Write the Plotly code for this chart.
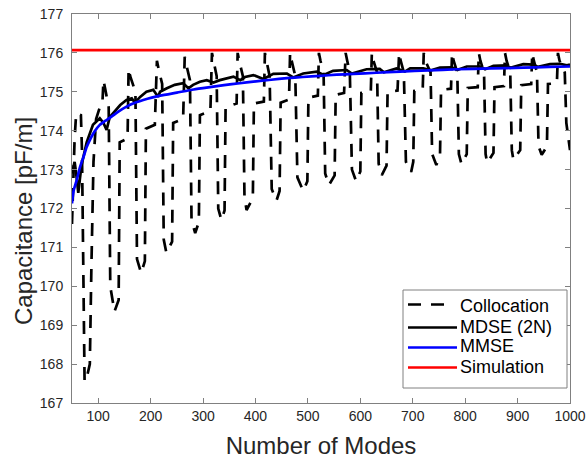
import plotly.graph_objects as go

# ---------------- data ----------------
coll_modes = [50, 52, 55, 58, 67, 69, 71, 74, 79, 84, 87, 91, 96, 103, 108,
              110, 113, 120, 123, 131, 139, 141, 156,
              158, 161, 171, 174, 182, 189, 191, 208,
              212, 215, 222, 225, 230, 241, 243, 262,
              265, 268, 275, 278, 285, 292, 294, 314,
              317, 320, 326, 329, 335, 341, 343, 364,
              366, 369, 376, 379, 383, 395, 397, 416,
              418, 421, 427, 431, 440, 446, 448, 464,
              466, 469, 476, 480, 491, 499, 501, 519,
              521, 524, 530, 533, 540, 551, 553, 569,
              572, 575, 580, 584, 592, 600, 602, 620,
              622, 625, 632, 635, 641, 650, 652, 671,
              674, 677, 683, 687, 697, 701, 703, 719,
              721, 724, 734, 737, 745, 752, 754, 773,
              775, 778, 785, 788, 793, 803, 805, 824,
              826, 829, 836, 839, 842, 854, 856, 874,
              876, 879, 886, 889, 892, 905, 907, 926,
              928, 931, 937, 940, 946, 956, 958, 975,
              977, 980, 990, 993, 1000]
coll_vals = [171.6, 172.6, 173.8, 174.45, 174.4, 173.5, 170.5, 167.55, 167.7, 168.0, 170.5, 173.2, 174.3, 174.6, 174.7,
             175.3, 175.1, 174.6, 170.0, 169.35, 169.65, 173.7, 173.8,
             175.6, 175.4, 175.0, 170.7, 170.34, 170.65, 174.05, 174.15,
             175.8, 175.6, 175.2, 171.2, 170.86, 171.15, 174.2, 174.3,
             175.9, 175.7, 175.3, 171.7, 171.37, 171.65, 174.4, 174.5,
             176.0, 175.8, 175.4, 172.0, 171.7, 171.95, 174.6, 174.7,
             176.0, 175.8, 175.4, 172.3, 171.96, 172.27, 174.7, 174.75,
             176.0, 175.8, 175.4, 172.5, 172.2, 172.45, 174.72, 174.8,
             176.0, 175.8, 175.4, 172.8, 172.45, 172.7, 174.85, 174.9,
             176.0, 175.8, 175.45, 172.9, 172.6, 172.85, 174.92, 174.97,
             176.0, 175.8, 175.5, 173.0, 172.7, 172.95, 174.97, 175.0,
             176.0, 175.8, 175.5, 173.15, 172.86, 173.1, 175.0, 175.03,
             176.0, 175.8, 175.5, 173.2, 172.94, 173.2, 175.02, 175.05,
             176.0, 175.8, 175.5, 173.4, 173.12, 173.35, 175.05, 175.08,
             176.0, 175.8, 175.5, 173.4, 173.14, 173.4, 175.1, 175.12,
             176.0, 175.8, 175.5, 173.4, 173.17, 173.43, 175.12, 175.15,
             176.0, 175.8, 175.5, 173.5, 173.25, 173.5, 175.17, 175.2,
             176.0, 175.8, 175.5, 173.6, 173.38, 173.6, 175.2, 175.22,
             176.0, 175.8, 175.5, 174.2, 173.5]

mdse_modes = [50, 55, 58, 62, 68, 78, 90, 103, 110, 116, 122, 132, 142, 154, 164, 170, 180,
              192, 205, 214, 218, 231, 246, 262, 272, 281, 294, 307, 320, 332, 345, 358,
              371, 380, 396, 415, 434, 460, 472, 491, 517, 530, 548, 574, 584, 612, 637,
              645, 669, 685, 695, 720, 735, 752, 775, 785, 803, 829, 838, 854, 879, 886,
              911, 930, 939, 962, 981, 994, 1000]
mdse_vals = [172.9, 173.2, 172.9, 172.4, 173.1, 173.7, 174.15, 174.32, 174.2, 174.02, 174.35,
             174.5, 174.66, 174.79, 174.83, 174.72, 174.87, 175.0, 175.05, 174.87, 175.0,
             175.09, 175.18, 175.22, 175.09, 175.18, 175.26, 175.3, 175.24, 175.3, 175.35,
             175.39, 175.3, 175.38, 175.43, 175.33, 175.46, 175.47, 175.37, 175.47, 175.52,
             175.43, 175.54, 175.56, 175.47, 175.58, 175.59, 175.5, 175.6, 175.52, 175.6,
             175.6, 175.55, 175.62, 175.63, 175.56, 175.65, 175.65, 175.58, 175.67, 175.68,
             175.62, 175.71, 175.7, 175.64, 175.71, 175.72, 175.68, 175.7]

mmse_modes = [50, 53, 59, 65, 72, 78, 84, 93, 103, 113, 122, 137, 154, 170, 186, 202, 218,
              250, 282, 313, 340, 370, 396, 430, 460, 490, 523, 555, 587, 630, 676, 730,
              784, 850, 911, 960, 1000]
mmse_vals = [172.13, 172.45, 172.73, 173.05, 173.33, 173.58, 173.76, 173.98, 174.15, 174.25,
             174.33, 174.48, 174.62, 174.72, 174.79, 174.85, 174.9, 174.98, 175.06, 175.12,
             175.17, 175.22, 175.26, 175.31, 175.35, 175.38, 175.41, 175.44, 175.46, 175.49,
             175.52, 175.55, 175.58, 175.6, 175.62, 175.64, 175.65]

sim_modes = [50, 1000]
sim_vals = [176.07, 176.07]

x_ticks = [100, 200, 300, 400, 500, 600, 700, 800, 900, 1000]
y_ticks = [167, 168, 169, 170, 171, 172, 173, 174, 175, 176, 177]

series_names = ["Collocation", "MDSE (2N)", "MMSE", "Simulation"]
x_title = "Number of Modes"
y_title = "Capacitance [pF/m]"

# ---------------- styling ----------------
FONT = "Liberation Sans, Arial, Helvetica, sans-serif"
TXT = "#262626"
AX = "#808080"
LW = 2.7
COLL_DASH = "13px,10px"
styles = [dict(color="black", width=LW, dash=COLL_DASH),
          dict(color="black", width=LW),
          dict(color="#0000ff", width=LW),
          dict(color="#ff0000", width=LW)]

W, H = 586, 459
ML, MR, MT, MB = 72, 16, 14, 56
PW, PH = W - ML - MR, H - MT - MB


def px_x(p):
    return (p - ML) / PW


def px_y(p):
    return (H - MB - p) / PH


fig = go.Figure()
fig.add_trace(go.Scatter(x=coll_modes, y=coll_vals, mode="lines", name=series_names[0], line=styles[0]))
fig.add_trace(go.Scatter(x=mdse_modes, y=mdse_vals, mode="lines", name=series_names[1], line=styles[1]))
fig.add_trace(go.Scatter(x=mmse_modes, y=mmse_vals, mode="lines", name=series_names[2],
                         line=dict(styles[2], shape="spline", smoothing=0.6)))
fig.add_trace(go.Scatter(x=sim_modes, y=sim_vals, mode="lines", name=series_names[3], line=styles[3]))

axis_common = dict(showgrid=False, zeroline=False, showline=True, linecolor=AX, linewidth=1,
                   mirror="ticks", ticks="inside", ticklen=5, tickcolor=AX, tickwidth=1,
                   tickfont=dict(family=FONT, size=14, color=TXT))

fig.update_xaxes(range=[50, 1000], tickvals=x_ticks,
                 title=dict(text=x_title, font=dict(family=FONT, size=24, color=TXT), standoff=18),
                 ticklabelstandoff=0, **axis_common)
fig.update_yaxes(range=[167, 177], tickvals=y_ticks, ticklabelstandoff=5, **axis_common)

# ---------------- legend (box, samples, labels) + y title ----------------
shapes = [dict(type="rect", xref="paper", yref="paper",
               x0=px_x(403), x1=px_x(567), y0=px_y(388), y1=px_y(290),
               line=dict(color=AX, width=1), fillcolor="white", layer="above")]
annotations = [dict(xref="paper", yref="paper", x=px_x(23), y=px_y(221),
                    xanchor="center", yanchor="middle", textangle=-90, text=y_title,
                    showarrow=False, font=dict(family=FONT, size=24, color=TXT))]
line_rows = [304.5, 327.5, 347.5, 367.5]
text_rows = [305.5, 326.5, 346.0, 366.5]
for name, st, ly, ty in zip(series_names, styles, line_rows, text_rows):
    sample_end = 446 if "dash" in st else 457
    shapes.append(dict(type="line", xref="paper", yref="paper",
                       x0=px_x(408), x1=px_x(sample_end), y0=px_y(ly), y1=px_y(ly),
                       line=dict(color=st["color"], width=st["width"], dash=st.get("dash", "solid")),
                       layer="above"))
    annotations.append(dict(xref="paper", yref="paper", x=px_x(458), y=px_y(ty),
                            xanchor="left", yanchor="middle", text=name, showarrow=False,
                            font=dict(family=FONT, size=18, color="black")))

fig.update_layout(
    width=W, height=H,
    margin=dict(l=ML, r=MR, t=MT, b=MB, autoexpand=False),
    paper_bgcolor="white", plot_bgcolor="white",
    showlegend=False,
    shapes=shapes, annotations=annotations,
)

fig.write_html("out.html")
